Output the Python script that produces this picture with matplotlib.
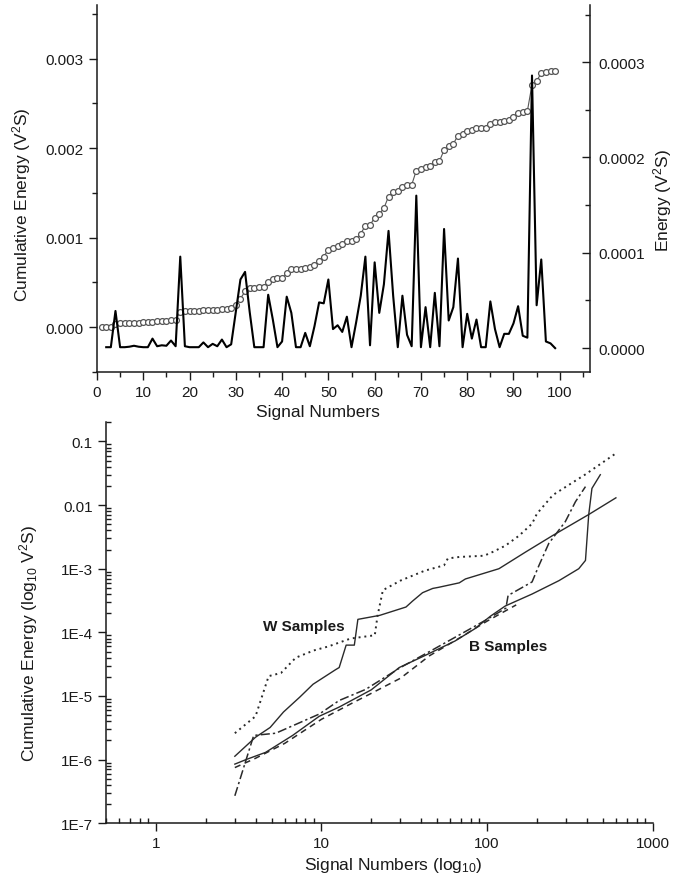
import numpy as np
import matplotlib
matplotlib.use("Agg")
import matplotlib.pyplot as plt
from matplotlib.ticker import MultipleLocator, FixedLocator, FixedFormatter, LogLocator, NullFormatter

plt.rcParams['font.family'] = ['Liberation Sans', 'DejaVu Sans']
plt.rcParams['mathtext.default'] = 'regular'

# ---------------- top chart data ----------------
cum_signal = list(range(1, 100))
cum_energy_e3 = [0, 0, 0, 0.04, 0.042, 0.045, 0.047, 0.05, 0.052, 0.054,
                 0.056, 0.062, 0.065, 0.068, 0.07, 0.077, 0.08, 0.175, 0.177, 0.179,
                 0.181, 0.183, 0.188, 0.19, 0.194, 0.196, 0.204, 0.206, 0.21, 0.25,
                 0.32, 0.40, 0.44, 0.442, 0.445, 0.447, 0.505, 0.54, 0.545, 0.553,
                 0.605, 0.645, 0.65, 0.655, 0.665, 0.67, 0.695, 0.745, 0.79, 0.865,
                 0.885, 0.91, 0.93, 0.96, 0.965, 0.99, 1.045, 1.135, 1.14, 1.225,
                 1.265, 1.33, 1.46, 1.515, 1.52, 1.57, 1.585, 1.59, 1.75, 1.765,
                 1.79, 1.8, 1.85, 1.855, 1.98, 2.02, 2.05, 2.14, 2.16, 2.19,
                 2.2, 2.22, 2.225, 2.23, 2.27, 2.29, 2.295, 2.3, 2.32, 2.35,
                 2.395, 2.405, 2.415, 2.71, 2.75, 2.84, 2.855, 2.86, 2.86]

energy_signal = list(range(2, 100))
energy_e4 = [0.01, 0.01, 0.39, 0.01, 0.01, 0.015, 0.025, 0.015, 0.01, 0.01,
             0.10, 0.02, 0.03, 0.025, 0.08, 0.02, 0.96, 0.02, 0.01, 0.01,
             0.01, 0.06, 0.01, 0.045, 0.02, 0.09, 0.01, 0.04, 0.38, 0.72,
             0.80, 0.38, 0.01, 0.01, 0.01, 0.56, 0.30, 0.01, 0.07, 0.54,
             0.37, 0.01, 0.01, 0.16, 0.02, 0.23, 0.48, 0.47, 0.72, 0.20,
             0.24, 0.17, 0.33, 0.01, 0.27, 0.55, 0.96, 0.03, 0.90, 0.37,
             0.67, 1.23, 0.55, 0.01, 0.55, 0.14, 0.02, 1.60, 0.01, 0.43,
             0.01, 0.58, 0.02, 1.25, 0.29, 0.43, 0.94, 0.01, 0.36, 0.10,
             0.30, 0.01, 0.01, 0.49, 0.20, 0.01, 0.15, 0.15, 0.26, 0.44,
             0.13, 0.11, 2.86, 0.45, 0.93, 0.07, 0.05, 0.00]

# ---------------- bottom chart data ----------------
w_dot_x = [3, 4, 4.8, 5.7, 7, 9, 11, 15, 21, 21.8, 23.5, 30, 42, 55, 58, 68, 96, 108, 129, 156, 187, 200, 250, 390, 600]
w_dot_y = [2.6e-6, 4.8e-6, 2.05e-5, 2.3e-5, 4.0e-5, 5.2e-5, 6.0e-5, 8.0e-5, 9.0e-5, 1.8e-4, 4.6e-4, 6.5e-4,
           9.3e-4, 1.13e-3, 1.45e-3, 1.53e-3, 1.6e-3, 1.83e-3, 2.3e-3, 3.3e-3, 5.1e-3, 7.3e-3, 1.44e-2, 3.0e-2, 6.5e-2]

w_solid_x = [3, 4, 4.9, 5.9, 7.4, 8.9, 12.2, 12.8, 14.1, 15.8, 16.6, 22.5, 32.4, 35.5, 40.8, 47, 51, 68, 74, 118, 171, 248, 411, 600]
w_solid_y = [1.13e-6, 2.25e-6, 3.2e-6, 5.6e-6, 9.6e-6, 1.53e-5, 2.6e-5, 2.8e-5, 6.3e-5, 6.3e-5, 1.6e-4, 1.85e-4,
             2.5e-4, 3.1e-4, 4.2e-4, 4.9e-4, 5.1e-4, 6.0e-4, 6.9e-4, 1.0e-3, 1.83e-3, 3.3e-3, 7.1e-3, 1.3e-2]

b_solid_x = [3, 3.5, 4.6, 6.7, 9.7, 12.8, 20, 29.5, 42, 64, 84, 105, 129, 187, 272, 358, 393, 411, 430, 483]
b_solid_y = [8.5e-7, 1.0e-6, 1.3e-6, 2.4e-6, 4.8e-6, 6.7e-6, 1.25e-5, 2.8e-5, 4.3e-5, 7.3e-5, 1.13e-4, 1.8e-4,
             2.6e-4, 4.0e-4, 6.5e-4, 1.0e-3, 1.35e-3, 7e-3, 1.83e-2, 3.0e-2]

b_dash_x = [3, 4, 6, 10, 15, 20, 30, 45, 70, 100, 150]
b_dash_y = [7.5e-7, 1.05e-6, 1.8e-6, 4.3e-6, 7.5e-6, 1.1e-5, 1.9e-5, 4.3e-5, 8.5e-5, 1.5e-4, 2.7e-4]

b_dashdot_x = [3, 3.9, 5.3, 9.7, 12.8, 18.5, 30, 45, 70, 100, 130, 134, 187, 206, 236, 297, 342, 393]
b_dashdot_y = [2.7e-7, 2.4e-6, 2.6e-6, 5.2e-6, 8.5e-6, 1.27e-5, 2.8e-5, 5.0e-5, 9.5e-5, 1.6e-4, 2.4e-4, 3.8e-4,
               6.2e-4, 1.13e-3, 2.5e-3, 5.5e-3, 1.13e-2, 1.95e-2]

y_log_ticks = [1e-7, 1e-6, 1e-5, 1e-4, 1e-3, 1e-2, 1e-1]
y_log_labels = ['1E-7', '1E-6', '1E-5', '1E-4', '1E-3', '0.01', '0.1']
x_log_ticks = [1, 10, 100, 1000]
x_log_labels = ['1', '10', '100', '1000']

# ---------------- figure ----------------
fig = plt.figure(figsize=(6.78, 8.78), dpi=100)
ink = '#1a1a1a'
tick_fs = 11
label_fs = 12.5

# top chart
ax1 = fig.add_axes([0.143, 0.5752, 0.727, 0.418])
ax1.plot(cum_signal, np.array(cum_energy_e3) * 1e-3, '-', color='#555555', lw=0.8,
         marker='o', ms=4.2, mfc='white', mec='#555555', mew=0.9, zorder=2)
ax1.set_xlim(0, 106.5)
ax1.set_ylim(-0.0005, 0.0036)
ax1.xaxis.set_major_locator(MultipleLocator(10))
ax1.xaxis.set_minor_locator(MultipleLocator(5))
ax1.yaxis.set_major_locator(FixedLocator([0, 0.001, 0.002, 0.003]))
ax1.yaxis.set_major_formatter(FixedFormatter(['0.000', '0.001', '0.002', '0.003']))
ax1.yaxis.set_minor_locator(MultipleLocator(0.0005))
ax1.spines['top'].set_visible(False)
ax1.spines['right'].set_visible(False)
for s in ['left', 'bottom']:
    ax1.spines[s].set_linewidth(1.1)
    ax1.spines[s].set_color(ink)
ax1.tick_params(which='major', direction='out', length=6, width=1, colors=ink, labelsize=tick_fs)
ax1.tick_params(which='minor', direction='out', length=3.5, width=1, colors=ink)
ax1.set_xlabel('Signal Numbers', fontsize=label_fs, color=ink)
ax1.xaxis.set_label_coords(0.449, -0.088)
ax1.set_ylabel('Cumulative Energy (V$^2$S)', fontsize=label_fs, color=ink)
ax1.yaxis.set_label_coords(-0.13, 0.458)

ax2 = ax1.twinx()
ax2.plot(energy_signal, np.array(energy_e4) * 1e-4, '-', color='black', lw=1.5, zorder=3)
ax2.set_ylim(-0.000025, 0.00036)
ax2.yaxis.set_major_locator(FixedLocator([0, 0.0001, 0.0002, 0.0003]))
ax2.yaxis.set_major_formatter(FixedFormatter(['0.0000', '0.0001', '0.0002', '0.0003']))
ax2.yaxis.set_minor_locator(MultipleLocator(0.00005))
for s in ['top', 'left', 'bottom']:
    ax2.spines[s].set_visible(False)
ax2.spines['right'].set_linewidth(1.1)
ax2.spines['right'].set_color(ink)
ax2.tick_params(which='major', direction='in', length=6, width=1, colors=ink, labelsize=tick_fs, pad=6)
ax2.tick_params(which='minor', direction='in', length=3.5, width=1, colors=ink)
ax2.set_ylabel('Energy (V$^2$S)', fontsize=label_fs, color=ink)
ax2.yaxis.set_label_coords(1.125, 0.47)

# bottom chart
ax3 = fig.add_axes([0.1563, 0.0612, 0.8063, 0.4567])
lc = '#2a2a2a'
ax3.plot(w_dot_x, w_dot_y, color=lc, lw=1.4, linestyle=(0, (1, 2)))
ax3.plot(w_solid_x, w_solid_y, color=lc, lw=1.0, linestyle='-')
ax3.plot(b_solid_x, b_solid_y, color=lc, lw=1.0, linestyle='-')
ax3.plot(b_dash_x, b_dash_y, color=lc, lw=1.1, linestyle=(0, (4, 3)))
ax3.plot(b_dashdot_x, b_dashdot_y, color=lc, lw=1.1, linestyle=(0, (6, 2, 1.5, 2)))
ax3.set_xscale('log')
ax3.set_yscale('log')
ax3.set_xlim(0.5, 1000)
ax3.set_ylim(1e-7, 0.2)
ax3.yaxis.set_major_locator(FixedLocator(y_log_ticks))
ax3.yaxis.set_major_formatter(FixedFormatter(y_log_labels))
ax3.xaxis.set_major_locator(FixedLocator(x_log_ticks))
ax3.xaxis.set_major_formatter(FixedFormatter(x_log_labels))
ax3.xaxis.set_minor_locator(LogLocator(base=10, subs=np.arange(2, 10), numticks=20))
ax3.yaxis.set_minor_locator(LogLocator(base=10, subs=np.arange(2, 10), numticks=20))
ax3.xaxis.set_minor_formatter(NullFormatter())
ax3.yaxis.set_minor_formatter(NullFormatter())
ax3.spines['top'].set_visible(False)
ax3.spines['right'].set_visible(False)
for s in ['left', 'bottom']:
    ax3.spines[s].set_linewidth(1.1)
    ax3.spines[s].set_color(ink)
ax3.tick_params(which='major', direction='out', length=6, width=1, colors=ink, labelsize=tick_fs)
ax3.tick_params(which='minor', direction='in', length=3.5, width=1, colors=ink)
ax3.set_xlabel('Signal Numbers (log$_{10}$)', fontsize=label_fs, color=ink)
ax3.xaxis.set_label_coords(0.526, -0.078)
ax3.set_ylabel('Cumulative Energy (log$_{10}$ V$^2$S)', fontsize=label_fs, color=ink)
ax3.yaxis.set_label_coords(-0.12, 0.45)

ax3.text(4.43, 1.26e-4, 'W Samples', fontsize=11, fontweight='bold', color=ink, ha='left', va='center')
ax3.text(78, 6.1e-5, 'B Samples', fontsize=11, fontweight='bold', color=ink, ha='left', va='center')

fig.savefig('out.png', dpi=100)
